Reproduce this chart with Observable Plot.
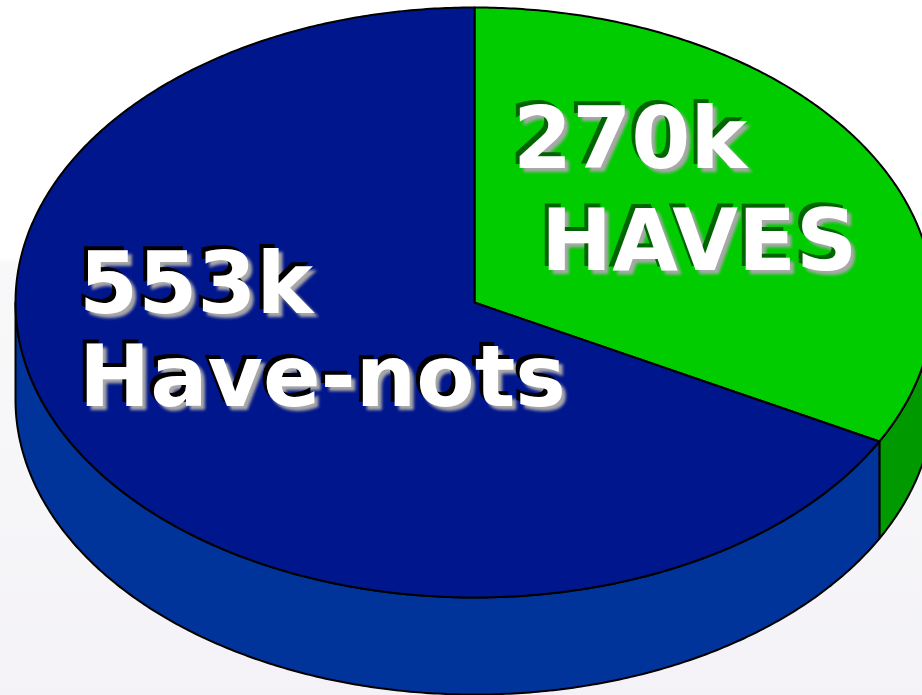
<!DOCTYPE html>
<html><head><meta charset="utf-8">
<script src="https://cdn.jsdelivr.net/npm/d3@7"></script>
<script src="https://cdn.jsdelivr.net/npm/@observablehq/plot@0.6"></script>
<style>
html,body{margin:0;padding:0;width:922px;height:695px;overflow:hidden;
  background:linear-gradient(to bottom,#ffffff 0%,#ffffff 37%,#f8f8f9 38%,#f6f5f8 75%,#f4f2f7 100%);}
#chart svg{display:block;max-width:none;background:transparent !important;}
</style></head><body><div id="chart"></div>
<script>
// ---- data ----
const categories = ["HAVES", "Have-nots"];
const values = [270, 553];               // thousands
const valueLabels = ["270k", "553k"];
const topColors = ["#00cc00", "#00168c"];
const sideColors = ["#009900", "#00349a"];
const shadowColors = ["#006400", "#000000"];

// ---- geometry (unit ellipse in data space) ----
const depth = 0.329;
const pie = d3.pie().sort(null).startAngle(0).endAngle(2 * Math.PI)(values);
const step = Math.PI / 360;
function arcPts(a, b, off) {
  const n = Math.max(2, Math.ceil((b - a) / step));
  const pts = [];
  for (let i = 0; i <= n; i++) {
    const t = a + (b - a) * i / n;
    pts.push({x: Math.sin(t), y: Math.cos(t) - off});
  }
  return pts;
}
const tops = [], sides = [];
pie.forEach((p, i) => {
  const key = categories[i];
  const pts = [{x: 0, y: 0}, ...arcPts(p.startAngle, p.endAngle, 0), {x: 0, y: 0}];
  pts.forEach(q => tops.push({...q, key, fill: topColors[i]}));
  const a = Math.max(p.startAngle, Math.PI / 2), b = Math.min(p.endAngle, 3 * Math.PI / 2);
  if (b > a) {
    const s = [...arcPts(a, b, 0), ...arcPts(a, b, depth).reverse()];
    s.push(s[0]);
    s.forEach(q => sides.push({...q, key, fill: sideColors[i]}));
  }
});

// label layout offsets (px) relative to the slice anchor
const labelR = 0.55;
const labelLayout = {
  "HAVES": [{dx: -178, dy: -78}, {dx: -150, dy: 24}],
  "Have-nots": [{dx: -179, dy: -100}, {dx: -179, dy: -7}]
};
const font = {fontFamily: "DejaVu Sans, Verdana, sans-serif", fontWeight: "bold", fontSize: 85, textAnchor: "start", lineAnchor: "middle"};
const textMarks = [];
pie.forEach((p, i) => {
  const mid = (p.startAngle + p.endAngle) / 2;
  const lines = [valueLabels[i], categories[i]];
  lines.forEach((t, j) => {
    const d = [{x: labelR * Math.sin(mid), y: labelR * Math.cos(mid), text: t}];
    const {dx, dy} = labelLayout[categories[i]][j];
    const o = {x: "x", y: "y", text: "text", ...font};
    textMarks.push(Plot.text(d, {...o, dx: dx + 4, dy: dy + 4, fill: "#a8a8a8", ariaDescription: "blur"}));
    textMarks.push(Plot.text(d, {...o, dx: dx - 4, dy: dy - 4, fill: shadowColors[i]}));
    textMarks.push(Plot.text(d, {...o, dx, dy, fill: "white"}));
  });
});

const chart = Plot.plot({
  width: 922, height: 695, margin: 0,
  x: {domain: [-1, 1], range: [15, 933], axis: null},
  y: {domain: [-1, 1], range: [597, 7], axis: null},
  color: {type: "identity"},
  marks: [
    Plot.line(sides, {x: "x", y: "y", z: "key", fill: "fill", stroke: "black", strokeWidth: 2, strokeLinejoin: "round", curve: "linear"}),
    Plot.line(tops, {x: "x", y: "y", z: "key", fill: "fill", stroke: "black", strokeWidth: 2, strokeLinejoin: "round", curve: "linear"}),
    ...textMarks
  ]
});
chart.style.background = "transparent";
d3.select(chart).selectAll('[aria-description="blur"]').style("filter", "blur(1.5px)");
document.getElementById("chart").appendChild(chart);
</script></body></html>
